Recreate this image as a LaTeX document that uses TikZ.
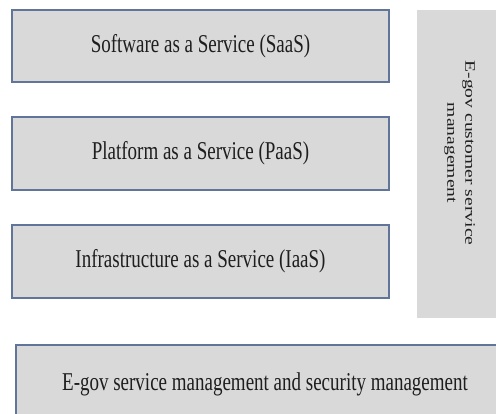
\documentclass[tikz,border=0pt]{standalone}
\usepackage{fontspec}
\setmainfont{Liberation Serif}
\definecolor{boxfill}{HTML}{D9D9D9}
\definecolor{boxedge}{HTML}{61759A}
\definecolor{labeltext}{HTML}{1E1E1E}
\newcommand{\tallstretch}{1.35}
\begin{document}
\begin{tikzpicture}[x=1pt,y=-1pt,
  layer/.style={draw=boxedge, line width=1.6pt, fill=boxfill, text=labeltext,
    inner sep=0pt, font=\fontsize{19}{22}\selectfont},
  sidepanel/.style={fill=boxfill, text=labeltext, inner sep=0pt,
    font=\fontsize{14.5}{13}\selectfont}]
  \useasboundingbox (0,0) rectangle (496,413);
  \begin{scope}
    \clip (0,0) rectangle (496,413);
    % side panel spanning the three service layers
    \node[sidepanel, minimum width=90pt, minimum height=308pt] (cust) at (462,164) {};
    \node[text=labeltext, inner sep=0pt, font=\fontsize{14.5}{18}\selectfont] (custlabel) at (460,153)
      {\rotatebox{-90}{\scalebox{\tallstretch}[1]{\begin{tabular}{@{}c@{}}E-gov customer service\\management\end{tabular}}}};
    % the three service layers
    \node[layer, minimum width=377pt, minimum height=72pt] (saas) at (200.5,46)
      {\scalebox{1}[\tallstretch]{Software as a Service (SaaS)}};
    \node[layer, minimum width=377pt, minimum height=73pt] (paas) at (200.5,153.5)
      {\scalebox{1}[\tallstretch]{Platform as a Service (PaaS)}};
    \node[layer, minimum width=377pt, minimum height=73pt] (iaas) at (200.5,261.5)
      {\scalebox{1}[\tallstretch]{Infrastructure as a Service (IaaS)}};
    % management layer underneath, running past the right and bottom edges
    \node[layer, minimum width=498pt, minimum height=78pt] (mgmt) at (265,384)
      {\scalebox{1}[\tallstretch]{E-gov service management and security management}};
  \end{scope}
\end{tikzpicture}
\end{document}
